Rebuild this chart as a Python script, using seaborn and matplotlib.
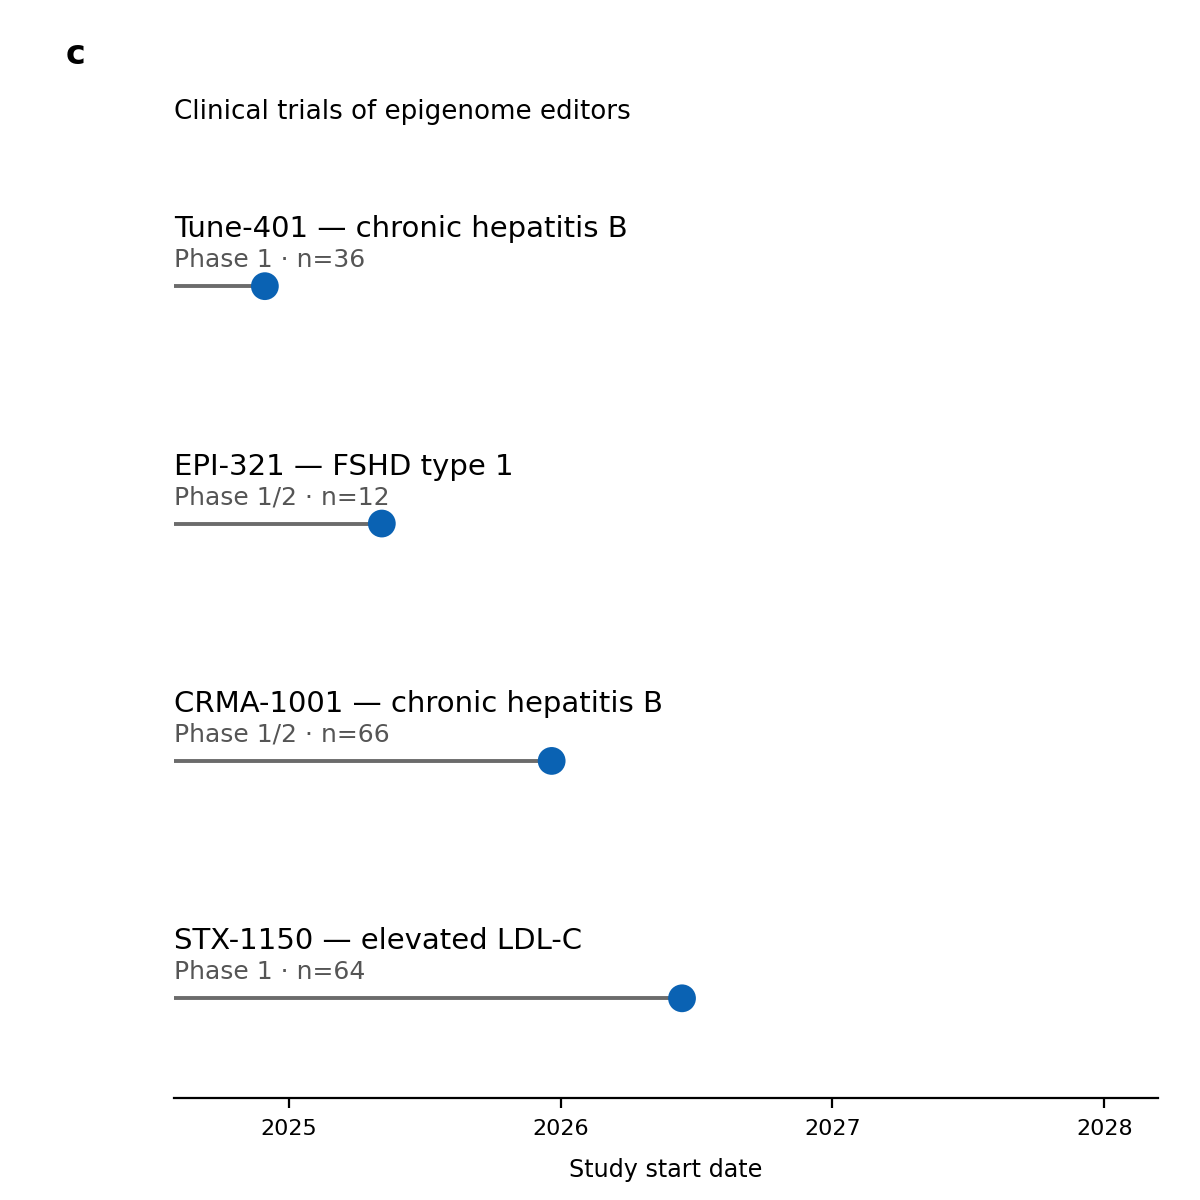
import pandas as pd
import matplotlib
matplotlib.use("Agg")
import matplotlib.pyplot as plt
import matplotlib.dates as mdates
import matplotlib.transforms as mtransforms
import seaborn as sns

# trial data
trials = ["Tune-401", "EPI-321", "CRMA-1001", "STX-1150"]
indications = ["chronic hepatitis B", "FSHD type 1", "chronic hepatitis B", "elevated LDL-C"]
phases = ["Phase 1", "Phase 1/2", "Phase 1/2", "Phase 1"]
enrolment = [36, 12, 66, 64]
start_dates = ["2024-11-30", "2025-05-06", "2025-12-20", "2026-06-13"]

df = pd.DataFrame({
    "trial": trials,
    "indication": indications,
    "phase": phases,
    "n": enrolment,
    "start": pd.to_datetime(start_dates),
    "row": range(len(trials)),
})

sns.set_theme(style="white")
plt.rcParams['font.family'] = ['DejaVu Sans']
plt.rcParams['text.color'] = 'black'
plt.rcParams['axes.labelcolor'] = 'black'

fig = plt.figure(figsize=(6, 6), dpi=200)
ax = fig.add_axes([0.145, 0.085, 0.82, 0.815])

x_left = pd.Timestamp("2024-07-31")
x_right = pd.Timestamp("2028-03-13")

ax.hlines(df["row"], x_left, df["start"], color="#6b6b6b", lw=1.4, zorder=1)
sns.scatterplot(data=df, x="start", y="row", ax=ax, color="#0a62b3", s=100,
                edgecolor="none", zorder=2, legend=False)

ax.set_xlim(x_left, x_right)
ax.set_ylim(3.42, -0.70)

trans = mtransforms.blended_transform_factory(ax.transAxes, ax.transData)
for _, r in df.iterrows():
    ax.text(0, r["row"] - 0.24, f"{r['trial']} — {r['indication']}", transform=trans,
            ha="left", va="center", fontsize=10.5, color="black")
    ax.text(0, r["row"] - 0.11, f"{r['phase']} · n={r['n']}", transform=trans,
            ha="left", va="center", fontsize=9, color="#555555")

ax.xaxis.set_major_locator(mdates.YearLocator())
ax.xaxis.set_major_formatter(mdates.DateFormatter("%Y"))
ax.tick_params(axis="x", bottom=True, length=3.5, width=0.8, labelsize=8, pad=4, colors="black")
ax.set_yticks([])
ax.set_ylabel("")
ax.set_xlabel("Study start date", fontsize=8.6, labelpad=7)
for s in ["top", "right", "left"]:
    ax.spines[s].set_visible(False)
ax.spines["bottom"].set_color("black")
ax.spines["bottom"].set_linewidth(0.8)

fig.text(0.145, 1 - 112 / 1200, "Clinical trials of epigenome editors", ha="left", va="center",
         fontsize=9.4, color="black")
fig.text(0.055, 1 - 55 / 1200, "c", ha="left", va="center", fontsize=12, fontweight="bold", color="black")

fig.savefig("out.png", dpi=200, facecolor="white")
